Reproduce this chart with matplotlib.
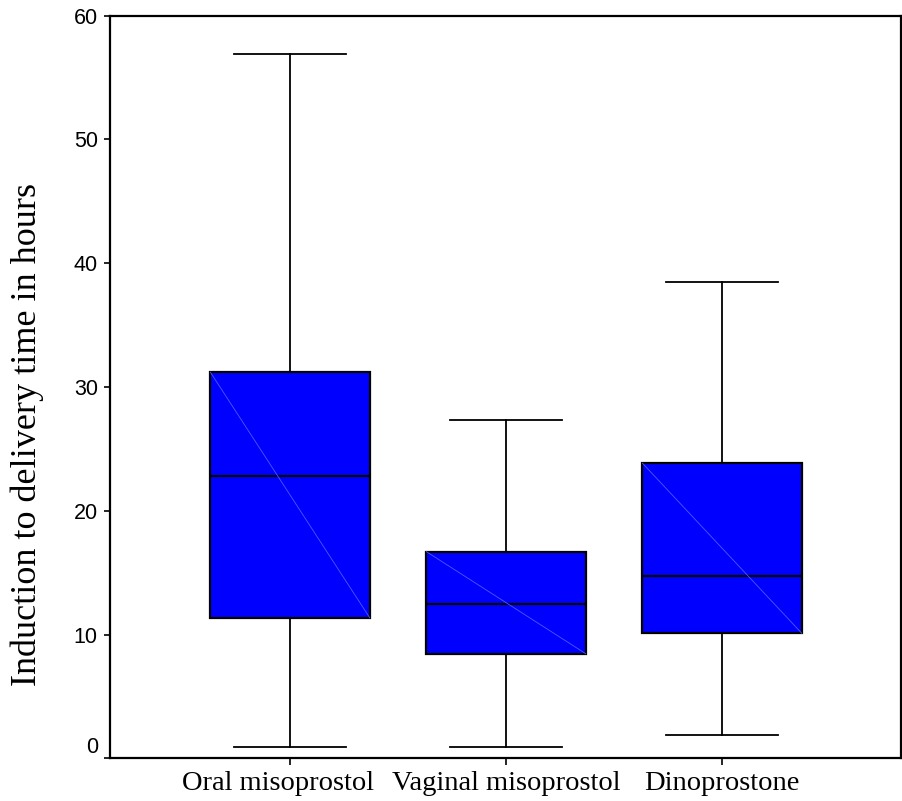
import matplotlib
matplotlib.use("Agg")
import matplotlib.pyplot as plt
import matplotlib.transforms as mtransforms

# Induction-to-delivery time (hours) per treatment group
groups = ["Oral misoprostol", "Vaginal misoprostol", "Dinoprostone"]
whisker_low = [0.9, 0.9, 1.85]
q1 = [11.35, 8.45, 10.1]
median = [22.8, 12.45, 14.7]
q3 = [31.2, 16.7, 23.85]
whisker_high = [56.9, 27.3, 38.5]
y_ticks = [0, 10, 20, 30, 40, 50, 60]

fig = plt.figure(figsize=(9.02, 8.01), dpi=100)
ax = fig.add_axes([0.1223, 0.0533, 0.8763, 0.9271])

stats = []
for i, name in enumerate(groups):
    stats.append(dict(label=name, med=median[i], q1=q1[i], q3=q3[i],
                      whislo=whisker_low[i], whishi=whisker_high[i], fliers=[]))

positions = [1, 2, 3]
box_w = 0.738
ax.bxp(stats, positions=positions, widths=box_w, patch_artist=True,
       showfliers=False, capwidths=0.515,
       boxprops=dict(facecolor="#0000ff", edgecolor="black", linewidth=1.6),
       medianprops=dict(color="black", linewidth=1.6),
       whiskerprops=dict(color="black", linewidth=1.3),
       capprops=dict(color="black", linewidth=1.3))

# faint diagonal seam across each filled box
for p, lo, hi in zip(positions, q1, q3):
    ax.plot([p - box_w / 2, p + box_w / 2], [hi, lo], color="#4a5cff",
            linewidth=0.6, zorder=3)

ax.set_xlim(0.168, 3.827)
ax.set_ylim(0, 60)
ax.set_yticks(y_ticks)
ax.set_yticklabels([str(v) for v in y_ticks], fontfamily="Liberation Sans",
                   fontsize=15.5)
ax.set_xticks(positions)
ax.set_xticklabels(groups, fontfamily="Liberation Serif", fontsize=20.5)
ax.tick_params(axis="y", direction="out", length=4, width=1.2, pad=5)
ax.tick_params(axis="x", direction="out", length=5, width=1.2, pad=4)

# lift the zero label off the x axis line
zero_lbl = ax.get_yticklabels()[0]
zero_lbl.set_va("bottom")

# nudge the first category label left, away from its neighbour
first_lbl = ax.get_xticklabels()[0]
first_lbl.set_transform(first_lbl.get_transform() +
                        mtransforms.ScaledTranslation(-12 / 100, 0,
                                                      fig.dpi_scale_trans))

for s in ax.spines.values():
    s.set_linewidth(1.6)

fig.text(27 / 902, 1 - 434 / 801, "Induction to delivery time in hours",
         rotation=90, ha="center", va="center",
         fontfamily="Liberation Serif", fontsize=26)

fig.savefig("out.png", dpi=100)
